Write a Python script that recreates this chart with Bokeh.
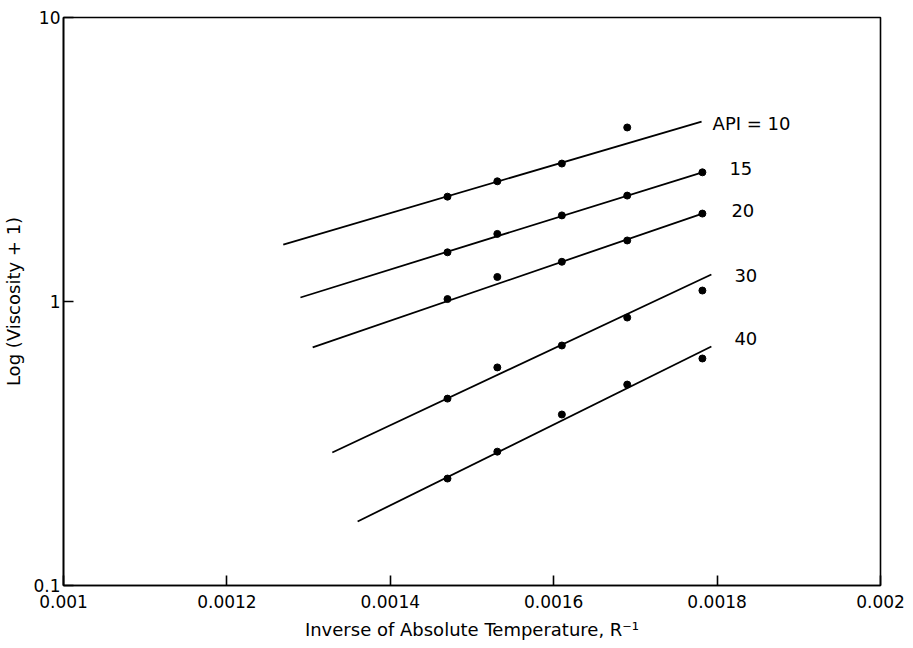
from bokeh.plotting import figure
from bokeh.models import FixedTicker, CustomJSTickFormatter
from bokeh.embed import file_html
from bokeh.resources import INLINE
from bokeh.core.properties import value

# ---- data ----
inv_temp = [0.00147, 0.001531, 0.00161, 0.00169, 0.001782]   # 1/R

api_names = ["API = 10", "15", "20", "30", "40"]

visc_api10 = [2.34, 2.65, 3.06, 4.10]
visc_api15 = [1.49, 1.73, 2.01, 2.36, 2.85]
visc_api20 = [1.02, 1.22, 1.38, 1.64, 2.04]
visc_api30 = [0.455, 0.586, 0.70, 0.878, 1.093]
visc_api40 = [0.238, 0.296, 0.40, 0.51, 0.63]

# fitted straight lines (start / end)
fit_x_start = [0.001269, 0.00129, 0.001305, 0.001329, 0.00136]
fit_y_start = [1.587, 1.033, 0.689, 0.294, 0.168]
fit_x_end = [0.001781, 0.001782, 0.001782, 0.001793, 0.001793]
fit_y_end = [4.30, 2.85, 2.04, 1.245, 0.694]

x_ticks = [0.001, 0.0012, 0.0014, 0.0016, 0.0018, 0.002]
y_ticks = [0.1, 1, 10]

FONT = "DejaVu Sans"

p = figure(width=913, height=648, y_axis_type="log",
           x_range=(0.001, 0.002), y_range=(0.1, 10),
           output_backend="svg", toolbar_location=None,
           min_border_left=63, min_border_right=33,
           min_border_top=17, min_border_bottom=63)

p.grid.visible = False
p.outline_line_color = "black"
p.outline_line_width = 1.6
p.background_fill_color = "white"
p.border_fill_color = "white"

# fitted lines
for xs, ys, xe, ye in zip(fit_x_start, fit_y_start, fit_x_end, fit_y_end):
    p.line([xs, xe], [ys, ye], line_color="black", line_width=1.8)

# data points
all_series = [visc_api10, visc_api15, visc_api20, visc_api30, visc_api40]
for vals in all_series:
    p.scatter(inv_temp[:len(vals)], vals, size=7, fill_color="black",
              line_color="black")

# series labels next to line ends
label_dx = [11, 27, 29, 23, 23]
label_dy = [2, -4, -3, 1, -8]
for name, xe, ye, dx, dy in zip(api_names, fit_x_end, fit_y_end, label_dx, label_dy):
    p.text(x=[xe], y=[ye], text=[name], x_offset=dx, y_offset=dy,
           text_align="left", text_baseline="middle",
           text_font=value(FONT), text_font_size="18px", text_color="black")

# axes
p.xaxis.ticker = FixedTicker(ticks=x_ticks)
p.xaxis.formatter = CustomJSTickFormatter(
    code="return tick.toFixed(4).replace(/0+$/, '');")
p.yaxis.ticker = FixedTicker(ticks=y_ticks)
p.yaxis.formatter = CustomJSTickFormatter(
    code="return tick >= 1 ? tick.toFixed(0) : tick.toFixed(1);")

for ax in (p.xaxis[0], p.yaxis[0]):
    ax.major_tick_in = 10
    ax.major_tick_out = 0
    ax.minor_tick_line_color = None
    ax.axis_line_width = 1.6
    ax.major_tick_line_width = 1.6
    ax.major_label_text_font = FONT
    ax.major_label_text_font_size = "17px"
    ax.major_label_text_color = "black"
    ax.axis_label_text_font = FONT
    ax.axis_label_text_font_size = "18px"
    ax.axis_label_text_font_style = "normal"
    ax.axis_label_text_color = "black"

p.xaxis.axis_label = "Inverse of Absolute Temperature, R\u207b\u00b9"
p.yaxis.axis_label = "Log (Viscosity + 1)"
p.xaxis.major_label_standoff = 9
p.yaxis.major_label_standoff = 3
p.xaxis.axis_label_standoff = 8
p.yaxis.axis_label_standoff = 6

open("out.html", "w").write(file_html(p, INLINE))
